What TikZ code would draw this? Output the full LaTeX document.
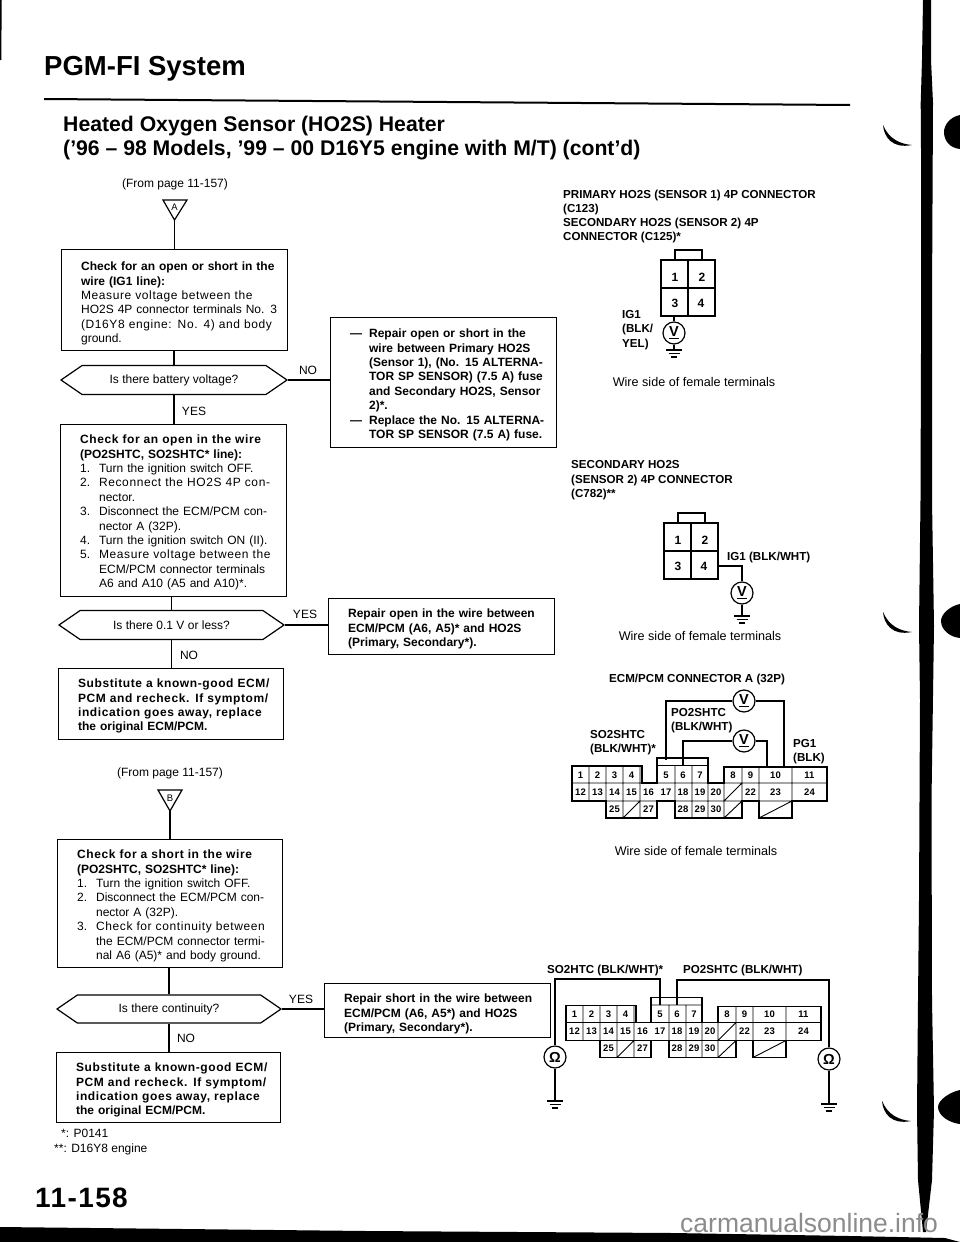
\documentclass[tikz,border=0pt]{standalone}
\usepackage{fontspec}
\setmainfont{Liberation Sans}
\newfontfamily\trk[LetterSpace=5]{Liberation Sans}
\usetikzlibrary{shapes.symbols}
\hbadness=10000 \hfuzz=20pt
\newcommand\fsn{\fontsize{12}{14.4}\selectfont}
\newcommand\lnJ[1]{\hbox to\hsize{#1}}
\newcommand\lnT[1]{\hbox to\hsize{\trk #1}}
\newcommand\lnF[1]{\hbox to\hsize{#1\hfil}}
\newcommand\lnI[2]{\hbox to\hsize{\hbox to 19pt{#1\hfil}\hbox to\dimexpr\hsize-19pt\relax{#2}}}
\newcommand\lnC[1]{\lnI{}{#1}}
\tikzset{
 every picture/.style={x=1pt,y=-1pt},
 lw/.style={line width=1.2pt,black},
 flowbox/.style n args={2}{lw,draw,rectangle,anchor=north west,inner xsep=19.5pt,inner ysep=0pt,
   text width=187pt,text height=#1pt,text depth=#2pt,font=\fsn},
 boldbox/.style n args={2}{flowbox={#1}{#2},font=\fsn\bfseries},
 hexbox/.style={lw,draw,signal,signal to=west and east,signal pointer angle=69,inner sep=0pt,
   minimum height=29pt,font=\fsn},
 txt/.style={anchor=base west,inner sep=0pt,font=\fsn},
 btxt/.style={anchor=base west,inner sep=0pt,font=\fontsize{11.6}{14}\selectfont\bfseries},
 ctxt/.style={anchor=base,inner sep=0pt,font=\fsn},
 meter/.style={lw,draw,circle,inner sep=0pt,minimum size=22pt,font=\fontsize{14.5}{14}\selectfont\bfseries},
 tri/.style={lw},
 wire/.style={lw,line join=miter},
 thick box/.style={line width=1.8pt,line join=miter},
 pinlab/.style={inner sep=0pt,font=\fontsize{9.5}{10}\selectfont\bfseries},
 fourlab/.style={inner sep=0pt,font=\fontsize{12}{12}\selectfont\bfseries},
}
\newcommand\groundsym[3]{\coordinate (#1) at (#2,#3);
 \draw[wire] (#2-8,#3) -- (#2+8,#3) (#2-5.5,#3+3.5) -- (#2+5.5,#3+3.5) (#2-3,#3+7) -- (#2+3,#3+7);}
\newcommand\fourp[3]{\begin{scope}[shift={(#2,#3)}]
 \draw[wire] (661,260) rectangle (715,316) (688,260) -- (688,316) (661,288) -- (715,288);
 \draw[wire] (675,260) |- (702,250) -- (702,260);
 \foreach \n/\x/\y in {1/675/277,2/702/277,3/675/303,4/701/303}
  \node[fourlab] (#1\n) at (\x,\y) {\n};
 \end{scope}}
\newcommand\bigcon[3]{\begin{scope}[shift={(#2,#3)}]
 \draw[thick box] (572,766) -- (642,766) -- (642,783) -- (657,783) -- (657,758) -- (708,758) -- (708,783)
  -- (724,783) -- (724,767) -- (827,767) -- (827,801) -- (792,801) -- (792,818) -- (759,818) -- (759,801)
  -- (742,801) -- (742,818) -- (675,818) -- (675,801) -- (657,801) -- (657,818) -- (606,818) -- (606,801)
  -- (572,801) -- cycle;
 \draw[wire,line width=.9pt] (657,765.5) -- (708,765.5)
  (572,783) -- (642,783) (657,783) -- (708,783) (724,783) -- (827,783)
  (606,801) -- (657,801) (675,801) -- (742,801) (759,801) -- (792,801)
  (589,766) -- (589,801) (606,766) -- (606,801) (623,766) -- (623,818) (640,766) -- (640,818) (640,783) -- (640,818)
  (675,765) -- (675,818) (692,765) -- (692,818) (708,783) -- (708,818) (724,783) -- (724,818)
  (742,767) -- (742,801) (759,767) -- (759,801) (792,767) -- (792,801)
  (623,818) -- (640,801) (724,801) -- (742,783) (724,818) -- (742,801) (759,818) -- (792,801);
 \foreach \n/\x/\y in {1/580.5/775,2/597.5/775,3/614.5/775,4/631.5/775,5/666/775,6/683/775,7/700/775,8/733/775,9/750.5/775,10/775.5/775,11/809.5/775,
   12/580.5/792,13/597.5/792,14/614.5/792,15/631.5/792,16/648.5/792,17/666/792,18/683/792,19/700/792,20/716/792,22/750.5/792,23/775.5/792,24/809.5/792,
   25/614.5/809,27/648.5/809,28/683/809,29/700/809,30/716/809}
  \node[pinlab] (#1\n) at (\x,\y) {\n};
 \end{scope}}
\newcommand\crescent[2]{\begin{scope}[shift={(#1,#2)}]
 \fill (883,125) .. controls (884,137) and (892,149) .. (912,145) .. controls (900,144) and (889,139) .. (883,125) -- cycle;
 \end{scope}}
\newcommand\blob[3]{\fill (960,#2) .. controls (950,#2+2) and (#1,#2+10) .. (#1,#2+17) .. controls (#1,#3-8) and (950,#3-1) .. (960,#3) -- cycle;}
\begin{document}
\begin{tikzpicture}
\useasboundingbox (0,0) rectangle (960,1242);
\fill[white] (0,0) rectangle (960,1242);
% scan edges
\fill (0,1227) -- (367,1231) -- (673,1233) -- (850,1236) -- (945,1238) -- (960,1242) -- (0,1242) -- cycle;
\fill (923,0) -- (922,60) -- (920.7,103) -- (921,150) -- (921,350) -- (920.5,500) -- (919,626) -- (920,700) -- (919,900) -- (918,1000) -- (917,1110) -- (918,1180) -- (923,1232)
 -- (926,1232) -- (932,1180) -- (934,1110) -- (932,1000) -- (931.5,800) -- (934,626) -- (932,500) -- (932,300) -- (933,103) -- (931,60) -- (931,0) -- cycle;
\crescent{0}{0} \crescent{0}{487} \crescent{-1}{976}
\blob{944}{115}{149} \blob{941}{604}{638} \blob{938}{1090}{1124}
\draw[line width=1.5pt] (1,0) -- (.5,60);
% titles
\node[anchor=base west,inner sep=0pt,font=\fontsize{27.5}{30}\selectfont\bfseries] (title) at (44,75) {PGM-FI System};
\fill (44,98) -- (850,104) -- (850,106) -- (44,100) -- cycle;
\node[anchor=base west,inner sep=0pt,font=\fontsize{21.2}{24}\selectfont\bfseries] (head1) at (63,131.5) {Heated Oxygen Sensor (HO2S) Heater};
\node[anchor=base west,inner sep=0pt,font=\fontsize{21.2}{24}\selectfont\bfseries] (head2) at (63,155) {('96 – 98 Models, '99 – 00 D16Y5 engine with M/T) (cont'd)};
% first flow
\node[ctxt] (from1) at (175,187) {(From page 11-157)};
\draw[tri] (163,200) -- (187,200) -- (174.5,220) -- cycle;
\coordinate (apexA) at (174.5,220);
\node[inner sep=0pt,font=\fontsize{9.5}{10}\selectfont] (triA) at (174.5,207) {A};
\node[flowbox={21}{80}] (b1) at (61,249) {
 \lnJ{\bfseries Check for an open or short in the}
 \lnF{\bfseries wire (IG1 line):}
 \lnT{Measure voltage between the}
 \lnJ{HO2S 4P connector terminals No. 3}
 \lnT{(D16Y8 engine: No. 4) and body}
 \lnF{ground.}};
\node[hexbox,minimum width=226pt] (d1) at (174,380) {Is there battery voltage?};
\node[boldbox={20}{110}] (r1) at (330,317) {
 \lnI{—}{Repair open or short in the}
 \lnC{wire between Primary HO2S}
 \lnC{(Sensor 1), (No. 15 ALTERNA-}
 \lnC{TOR SP SENSOR) (7.5 A) fuse}
 \lnC{and Secondary HO2S, Sensor}
 \lnC{2)*.\hfil}
 \lnI{—}{Replace the No. 15 ALTERNA-}
 \lnC{TOR SP SENSOR (7.5 A) fuse.\hfil}};
\node[flowbox={19}{153}] (b2) at (60,424) {
 \lnT{\bfseries Check for an open in the wire}
 \lnJ{\bfseries (PO2SHTC, SO2SHTC* line):\hfil}
 \lnI{1.}{Turn the ignition switch OFF.\hfil}
 \lnI{2.}{\trk Reconnect the HO2S 4P con-}
 \lnC{nector.\hfil}
 \lnI{3.}{Disconnect the ECM/PCM con-}
 \lnC{nector A (32P).\hfil}
 \lnI{4.}{Turn the ignition switch ON (II).}
 \lnI{5.}{\trk Measure voltage between the}
 \lnC{ECM/PCM connector terminals}
 \lnC{A6 and A10 (A5 and A10)*.\hfil}};
\node[hexbox,minimum width=225pt] (d2) at (171.5,625) {Is there 0.1 V or less?};
\node[boldbox={19}{37}] (r2) at (328,598) {
 \lnJ{Repair open in the wire between}
 \lnJ{ECM/PCM (A6, A5)* and HO2S}
 \lnF{(Primary, Secondary*).}};
\node[boldbox={19}{52},text width=186pt] (b3) at (58,668) {
 \lnT{Substitute a known-good ECM/}
 \lnT{PCM and recheck. If symptom/}
 \lnT{indication goes away, replace}
 \lnF{the original ECM/PCM.}};
% second flow
\node[ctxt] (from2) at (170,776) {(From page 11-157)};
\draw[tri] (158,790) -- (182,790) -- (170,811) -- cycle;
\coordinate (apexB) at (170,811);
\node[inner sep=0pt,font=\fontsize{9.5}{10}\selectfont] (triB) at (170,798) {B};
\node[flowbox={19}{109},text width=186pt] (b4) at (57,839) {
 \lnT{\bfseries Check for a short in the wire}
 \lnF{\bfseries (PO2SHTC, SO2SHTC* line):}
 \lnI{1.}{Turn the ignition switch OFF.\hfil}
 \lnI{2.}{Disconnect the ECM/PCM con-}
 \lnC{nector A (32P).\hfil}
 \lnI{3.}{\trk Check for continuity between}
 \lnC{the ECM/PCM connector termi-}
 \lnC{nal A6 (A5)* and body ground.}};
\node[hexbox,minimum width=224pt,minimum height=28pt] (d3) at (169,1009) {Is there continuity?};
\node[boldbox={19}{35}] (r3) at (324,983) {
 \lnJ{Repair short in the wire between}
 \lnJ{ECM/PCM (A6, A5*) and HO2S}
 \lnF{(Primary, Secondary*).}};
\node[boldbox={19}{51},text width=185pt] (b5) at (56,1052) {
 \lnT{Substitute a known-good ECM/}
 \lnT{PCM and recheck. If symptom/}
 \lnT{indication goes away, replace}
 \lnF{the original ECM/PCM.}};
% connectors of flow
\draw[wire] (apexA) -- (apexA |- b1.north);
\draw[wire] (d1.north) -- (d1.north |- b1.south);
\draw[wire] (d1.south) -- (d1.south |- b2.north);
\draw[wire] (d1.east) -- (d1.east -| r1.west);
\draw[wire] (d2.north) -- (d2.north |- b2.south);
\draw[wire] (d2.south) -- (d2.south |- b3.north);
\draw[wire] (d2.east) -- (d2.east -| r2.west);
\draw[wire] (apexB) -- (apexB |- b4.north);
\draw[wire] (d3.north) -- (d3.north |- b4.south);
\draw[wire] (d3.south) -- (d3.south |- b5.north);
\draw[wire] (d3.east) -- (d3.east -| r3.west);
\node[ctxt] (no1) at (308,374) {NO};
\node[ctxt] (yes1) at (194,415) {YES};
\node[ctxt] (yes2) at (305,618) {YES};
\node[ctxt] (no2) at (189,659) {NO};
\node[ctxt] (yes3) at (301,1003) {YES};
\node[ctxt] (no3) at (186,1042) {NO};
% footnotes and page number
\node[txt] (fn1) at (61,1137) {*: P0141};
\node[txt] (fn2) at (54,1152) {**: D16Y8 engine};
\node[anchor=base west,inner sep=0pt,font=\fontsize{28}{30}\selectfont\trk\bfseries] (pageno) at (35,1207) {11-158};
\node[anchor=base west,inner sep=0pt,text=black!45,font=\fontsize{26.5}{28}\selectfont] (wm) at (680,1232) {carmanualsonline.info};
% primary connector
\node[btxt] (h1) at (563,198) {PRIMARY HO2S (SENSOR 1) 4P CONNECTOR};
\node[btxt] (h2) at (563,212) {(C123)};
\node[btxt] (h3) at (563,226) {SECONDARY HO2S (SENSOR 2) 4P};
\node[btxt] (h4) at (563,240) {CONNECTOR (C125)*};
\fourp{ca}{0}{0}
\coordinate (caw) at (674,316);
\node[meter] (va) at (674,333) {\underline{V}};
\draw[wire] (caw) -- (va.north);
\groundsym{ga}{674}{350}
\draw[wire] (va.south) -- (ga);
\node[btxt] (ig1) at (622,318) {IG1};
\node[btxt] (ig2) at (622,332) {(BLK/};
\node[btxt] (ig3) at (622,347) {YEL)};
\node[anchor=base,inner sep=0pt,font=\fontsize{12.6}{14}\selectfont] (ws1) at (694,386) {Wire side of female terminals};
% secondary connector
\node[btxt] (s1) at (571,468) {SECONDARY HO2S};
\node[btxt] (s2) at (571,483) {(SENSOR 2) 4P CONNECTOR};
\node[btxt] (s3) at (571,497) {(C782)**};
\fourp{cb}{3}{263}
\coordinate (cbw) at (718,566);
\node[btxt] (igb) at (727,560) {IG1 (BLK/WHT)};
\node[meter] (vb) at (742,593) {\underline{V}};
\draw[wire] (cbw) -| (vb.north);
\groundsym{gb}{742}{616}
\draw[wire] (vb.south) -- (gb);
\node[anchor=base,inner sep=0pt,font=\fontsize{12.6}{14}\selectfont] (ws2) at (700,640) {Wire side of female terminals};
% ECM connector A
\node[btxt] (e0) at (609,682) {ECM/PCM CONNECTOR A (32P)};
\node[btxt] (po1) at (671,716) {PO2SHTC};
\node[btxt] (po2) at (671,730) {(BLK/WHT)};
\node[btxt] (so1) at (590,738) {SO2SHTC};
\node[btxt] (so2) at (590,752) {(BLK/WHT)*};
\node[btxt] (pg1) at (793,747) {PG1};
\node[btxt] (pg2) at (793,761) {(BLK)};
\bigcon{ea}{0}{0}
\coordinate (ew5) at (666,760);
\coordinate (ew6) at (683,765);
\coordinate (ewa) at (784,767);
\coordinate (ewb) at (767,767);
\node[meter] (vc) at (744,701) {\underline{V}};
\node[meter] (vd) at (744,741) {\underline{V}};
\draw[wire] (ew5) |- (vc.west);
\draw[wire] (vc.east) -| (ewa);
\draw[wire] (ew6) |- (vd.west);
\draw[wire] (vd.east) -| (ewb);
\node[anchor=base,inner sep=0pt,font=\fontsize{12.6}{14}\selectfont] (ws3) at (696,855) {Wire side of female terminals};
% second ECM connector
\node[btxt] (l1) at (547,973) {SO2HTC (BLK/WHT)*};
\node[btxt] (l2) at (683,973) {PO2SHTC (BLK/WHT)};
\bigcon{eb}{-6}{239.5}
\coordinate (fw5) at (660,1005);
\coordinate (fw6) at (677,1005);
\coordinate (fl) at (555,979);
\coordinate (fr) at (829,980);
\node[meter] (oa) at (555,1057) {Ω};
\node[meter] (ob) at (829,1059) {Ω};
\draw[wire] (fw5) |- (fl) -- (oa.north);
\draw[wire] (fw6) |- (fr) -- (ob.north);
\groundsym{goa}{555}{1101}
\groundsym{gob}{829}{1104}
\draw[wire] (oa.south) -- (goa);
\draw[wire] (ob.south) -- (gob);
\end{tikzpicture}
\end{document}
